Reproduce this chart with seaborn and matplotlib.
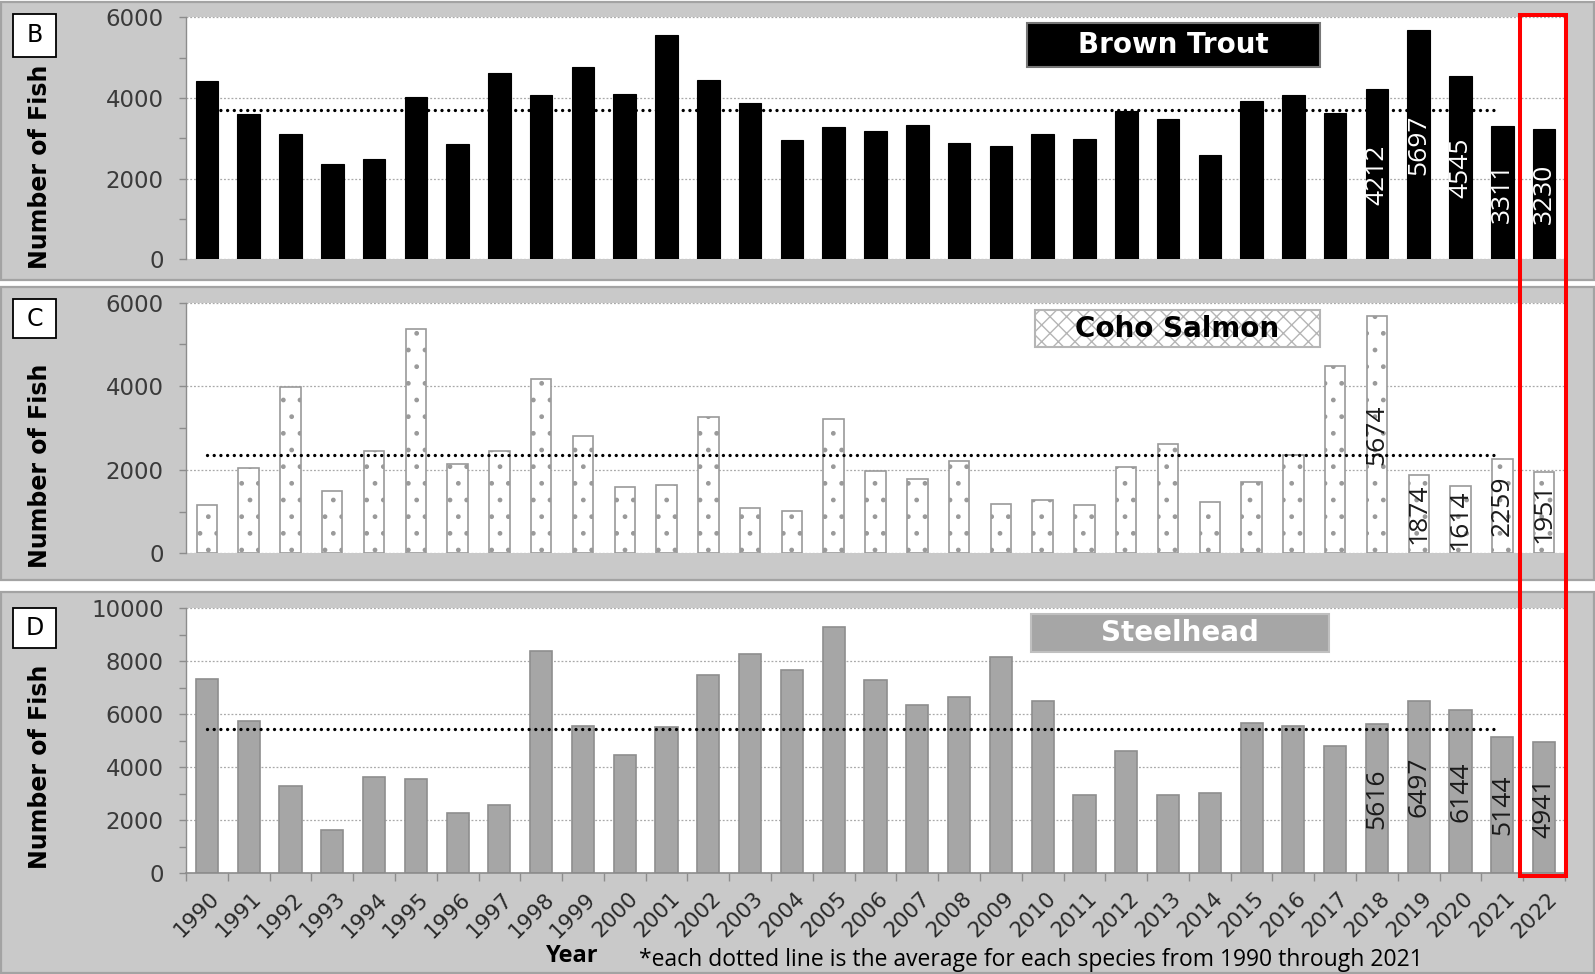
import numpy as np
import pandas as pd
import matplotlib
matplotlib.use("Agg")
import matplotlib.pyplot as plt
import seaborn as sns
from matplotlib.patches import Rectangle
from matplotlib.transforms import ScaledTranslation

# ---------------- data ----------------
years = [str(y) for y in range(1990, 2023)]
brown_trout = [4420, 3600, 3117, 2373, 2480, 4035, 2869, 4620, 4084, 4762,
               4092, 5555, 4439, 3886, 2951, 3281, 3174, 3323, 2894, 2819,
               3108, 2993, 3670, 3489, 2579, 3935, 4084, 3638, 4212, 5697,
               4545, 3311, 3230]
coho_salmon = [1149, 2035, 3974, 1484, 2450, 5378, 2130, 2450, 4165, 2801,
               1596, 1628, 3256, 1093, 1013, 3208, 1971, 1780, 2202, 1181,
               1277, 1149, 2067, 2625, 1221, 1700, 2354, 4477, 5674, 1874,
               1614, 2259, 1951]
steelhead = [7334, 5749, 3296, 1635, 3623, 3560, 2277, 2579, 8378, 5548,
             4478, 5523, 7485, 8265, 7661, 9284, 7309, 6365, 6655, 8152,
             6504, 2944, 4617, 2944, 3044, 5661, 5560, 4806, 5616, 6497,
             6144, 5144, 4941]
labeled_years = ["2018", "2019", "2020", "2021", "2022"]
species_names = ["Brown Trout", "Coho Salmon", "Steelhead"]
panel_letters = ["B", "C", "D"]
avg_years = [str(y) for y in range(1990, 2022)]
footnote = "*each dotted line is the average for each species from 1990 through 2021"

# ---------------- figure ----------------
W, H = 1595, 974
sns.set_style("white")
plt.rcParams["font.family"] = ["DejaVu Sans"]
fig = plt.figure(figsize=(W / 100, H / 100), dpi=100, facecolor="white")


def fbox(x0, y0, x1, y1):
    return [x0 / W, 1 - y1 / H, (x1 - x0) / W, (y1 - y0) / H]


# gray panel backgrounds
for (y0, y1) in [(2, 280), (287, 580), (592, 973)]:
    b = fbox(1, y0, 1594, y1)
    fig.add_artist(Rectangle((b[0], b[1]), b[2], b[3], transform=fig.transFigure,
                             facecolor="#c9c9c9", edgecolor="#a3a3a3", lw=1.6, zorder=0))

axes_px = [(186, 17.3, 1565, 259.2), (186, 302.7, 1565, 553.3), (186, 608.3, 1565, 873.3)]
axes = [fig.add_axes(fbox(*p)) for p in axes_px]

values_list = [brown_trout, coho_salmon, steelhead]
ymaxes = [6000, 6000, 10000]
bar_styles = [
    dict(color="black", edgecolor="black", linewidth=0.8, width=0.54),
    dict(color="white", edgecolor="#9a9a9a", linewidth=1.2, width=0.49, hatch="."),
    dict(color="#a6a6a6", edgecolor="#8e8e8e", linewidth=1.2, width=0.53),
]
label_colors = ["white", "#1a1a1a", "#1a1a1a"]
species_boxes = [
    dict(xy=(0.610, 0.795), w=0.212, h=0.181, fc="black", ec="#777777", hatch=None, tc="white"),
    dict(xy=(0.616, 0.823), w=0.206, h=0.148, fc="white", ec="#b5b5b5", hatch="xx", tc="black"),
    dict(xy=(0.613, 0.835), w=0.216, h=0.143, fc="#a6a6a6", ec="#c0c0c0", hatch=None, tc="white"),
]
letter_px = [(13, 14, 56, 57), (13, 299, 56, 338), (13, 608, 56, 648)]
ylabel_y = [167, 466, 767]

for i, ax in enumerate(axes):
    vals = values_list[i]
    df = pd.DataFrame({"Year": years, "Fish": vals})
    sns.barplot(data=df, x="Year", y="Fish", ax=ax, saturation=1, zorder=2,
                **bar_styles[i])
    ax.set_facecolor("white")
    ax.set_xlim(-0.5, len(years) - 0.5)
    ymax = ymaxes[i]
    ax.set_ylim(0, ymax)
    ax.set_yticks(np.arange(0, ymax + 1, 2000))
    ax.set_yticks(np.arange(1000, ymax, 2000), minor=True)
    ax.grid(axis="y", which="major", linestyle=(0, (1.5, 1.5)), color="#a9a9a9", lw=0.9)
    ax.grid(axis="x", visible=False)
    ax.set_axisbelow(True)
    ax.tick_params(axis="y", which="both", direction="out", length=5, width=1,
                   color="#8c8c8c", left=True, labelsize=16.5, labelcolor="#3a3a3a", pad=11)
    ax.set_xlabel("")
    ax.set_ylabel("")
    for s in ["top", "right"]:
        ax.spines[s].set_visible(False)
    ax.spines["left"].set_color("#8c8c8c")
    ax.spines["left"].set_linewidth(1)

    # average line (1990-2021)
    avg = float(np.mean([v for y, v in zip(years, vals) if y in avg_years]))
    ax.plot([0, len(avg_years) - 1.15], [avg, avg], color="black", lw=2.4,
            linestyle=(0, (0.01, 2.0)), dash_capstyle="round", zorder=4)

    # value labels
    labels = [str(v) if y in labeled_years else "" for y, v in zip(years, vals)]
    ax.bar_label(ax.containers[0], labels=labels, label_type="center", rotation=90,
                 color=label_colors[i], fontsize=19, family="Open Sans")

    # species tag
    sb = species_boxes[i]
    ax.add_patch(Rectangle(sb["xy"], sb["w"], sb["h"], transform=ax.transAxes,
                           facecolor=sb["fc"], edgecolor=sb["ec"], hatch=sb["hatch"],
                           lw=1.5, zorder=5))
    ax.text(sb["xy"][0] + sb["w"] / 2, sb["xy"][1] + sb["h"] / 2, species_names[i],
            transform=ax.transAxes, ha="center", va="center", color=sb["tc"],
            fontsize=20, fontweight="bold", zorder=6)

    # panel letter box
    lb = fbox(*letter_px[i])
    fig.add_artist(Rectangle((lb[0], lb[1]), lb[2], lb[3], transform=fig.transFigure,
                             facecolor="white", edgecolor="black", lw=1.3, zorder=3))
    fig.text(lb[0] + lb[2] / 2, lb[1] + lb[3] / 2, panel_letters[i], ha="center",
             va="center", fontsize=17, color="black", zorder=4)

    # y label
    fig.text(40 / W, 1 - ylabel_y[i] / H, "Number of Fish", rotation=90, ha="center",
             va="center", fontsize=17, fontweight="bold", color="black")

    if i < 2:
        ax.spines["bottom"].set_visible(False)
        ax.set_xticks([])
    else:
        ax.spines["bottom"].set_color("#8c8c8c")
        ax.spines["bottom"].set_linewidth(1.2)
        ax.set_xticks(np.arange(len(years)), labels=years)
        ax.set_xticks(np.arange(-0.5, len(years), 1.0), minor=True)
        ax.tick_params(axis="x", which="major", length=0, pad=16, labelsize=15.5,
                       labelcolor="#2a2a2a", bottom=True)
        ax.tick_params(axis="x", which="minor", length=6, width=1, color="#8c8c8c",
                       direction="out", bottom=True)
        for lab in ax.get_xticklabels():
            lab.set_rotation(45)
            lab.set_ha("right")
            lab.set_va("center")
            lab.set_rotation_mode("anchor")
            lab.set_transform(lab.get_transform() + ScaledTranslation(7 / 72, 0, fig.dpi_scale_trans))

# axis title and footnote
fig.text(572 / W, 1 - 956 / H, "Year", ha="center", va="center", fontsize=17,
         fontweight="bold", family="Open Sans", color="black")
fig.text(639 / W, 1 - 960 / H, footnote, ha="left", va="center", fontsize=16.5,
         family="Open Sans", color="black")

# red highlight box around 2022
rb = fbox(1520, 15, 1566, 876)
fig.add_artist(Rectangle((rb[0], rb[1]), rb[2], rb[3], transform=fig.transFigure,
                         fill=False, edgecolor="#ff0000", lw=2.9, zorder=10))

fig.savefig("out.png", dpi=100, facecolor="white")
